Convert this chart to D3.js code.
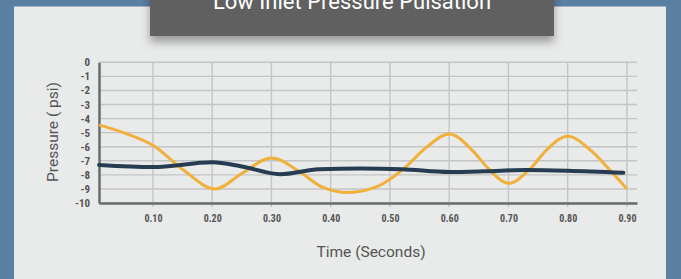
<!DOCTYPE html>
<html>
<head>
<meta charset="utf-8">
<script src="https://cdn.jsdelivr.net/npm/d3@7"></script>
<style>
  html, body { margin: 0; padding: 0; background: #5b7fa0; }
  svg { display: block; }
</style>
</head>
<body>
<script>
let width = 681, height = 279;

// data
let title = "Low Inlet Pressure Pulsation";
let xTicks = [0.10, 0.20, 0.30, 0.40, 0.50, 0.60, 0.70, 0.80, 0.90];
let yTicks = [0, -1, -2, -3, -4, -5, -6, -7, -8, -9, -10];

let orangeTime  = [0.009, 0.05, 0.10, 0.15, 0.205, 0.25, 0.30, 0.35, 0.385, 0.43, 0.48, 0.525, 0.56, 0.60, 0.64, 0.665, 0.70, 0.735, 0.765, 0.80, 0.84, 0.87, 0.90];
let orangeValue = [-4.45, -5.0, -5.9, -7.6, -9.0, -7.9, -6.8, -7.85, -8.85, -9.25, -8.8, -7.5, -6.1, -5.1, -6.3, -7.5, -8.6, -7.65, -6.2, -5.25, -6.3, -7.6, -9.0];

let navyTime  = [0.009, 0.10, 0.20, 0.25, 0.315, 0.38, 0.45, 0.52, 0.60, 0.66, 0.73, 0.80, 0.894];
let navyValue = [-7.3, -7.45, -7.1, -7.4, -7.95, -7.6, -7.55, -7.6, -7.8, -7.75, -7.65, -7.7, -7.85];

let svg = d3.select("body").append("svg")
    .attr("width", width)
    .attr("height", height);

let defs = svg.append("defs");
let shadow = defs.append("filter").attr("id", "shadow")
    .attr("x", "-10%").attr("y", "-20%").attr("width", "120%").attr("height", "180%");
shadow.append("feDropShadow")
    .attr("dx", 0).attr("dy", 6).attr("stdDeviation", 5)
    .attr("flood-color", "#000").attr("flood-opacity", 0.35);

// paper panel
svg.append("rect")
    .attr("x", 14).attr("y", 6.5)
    .attr("width", 652).attr("height", 280)
    .attr("fill", "#e9eaea");

// title box
svg.append("rect")
    .attr("x", 150).attr("y", -10)
    .attr("width", 404).attr("height", 46)
    .attr("fill", "#5f605f")
    .attr("filter", "url(#shadow)");

svg.append("text")
    .attr("x", 352).attr("y", 9)
    .attr("text-anchor", "middle")
    .attr("font-family", "Roboto, sans-serif")
    .attr("font-size", 22)
    .attr("fill", "#fff")
    .text(title);

let x = d3.scaleLinear().domain([0.009, 0.917]).range([99, 637]);
let y = d3.scaleLinear().domain([-10, 0]).range([203, 62.3]);

let condensed = "'Roboto Condensed', 'DejaVu Sans Condensed', 'Liberation Sans Narrow', Roboto, sans-serif";

// grid
let grid = svg.append("g").attr("stroke", "#c4c5c6").attr("stroke-width", 1.4);
grid.selectAll(".h").data(yTicks).enter().append("line")
    .attr("x1", x.range()[0]).attr("x2", x.range()[1])
    .attr("y1", d => y(d)).attr("y2", d => y(d));
grid.selectAll(".v").data(xTicks).enter().append("line")
    .attr("x1", d => x(d)).attr("x2", d => x(d))
    .attr("y1", y(0)).attr("y2", y(-10) + 4);

// axes
let xAxis = svg.append("g")
    .attr("transform", "translate(0," + y(-10) + ")")
    .call(d3.axisBottom(x).tickValues(xTicks).tickSize(0).tickPadding(12).tickFormat(d3.format(".2f")));
xAxis.select(".domain").attr("stroke", "#6a6b6c").attr("stroke-width", 2.5);

let yAxis = svg.append("g")
    .attr("transform", "translate(" + x.range()[0] + ",0)")
    .call(d3.axisLeft(y).tickValues(yTicks).tickSize(0).tickPadding(9).tickFormat(d => d));
yAxis.select(".domain").attr("stroke", "#6a6b6c").attr("stroke-width", 2.5);

svg.selectAll(".tick text")
    .attr("font-family", condensed)
    .attr("font-weight", "bold")
    .attr("font-size", 10)
    .attr("fill", "#555");
yAxis.selectAll(".tick text").attr("font-size", 11);

// axis titles
svg.append("text")
    .attr("x", 371).attr("y", 257)
    .attr("text-anchor", "middle")
    .attr("font-family", "Roboto, sans-serif")
    .attr("font-size", 15.5)
    .attr("fill", "#555")
    .text("Time (Seconds)");

svg.append("text")
    .attr("transform", "translate(58,132) rotate(-90)")
    .attr("text-anchor", "middle")
    .attr("font-family", "Roboto, sans-serif")
    .attr("font-size", 15.5)
    .attr("fill", "#555")
    .text("Pressure ( psi)");

// lines
let line = d3.line()
    .x(d => x(d[0]))
    .y(d => y(d[1]))
    .curve(d3.curveMonotoneX);

svg.append("path")
    .datum(d3.zip(orangeTime, orangeValue))
    .attr("fill", "none")
    .attr("stroke", "#f0b03a")
    .attr("stroke-width", 3)
    .attr("d", line);

svg.append("path")
    .datum(d3.zip(navyTime, navyValue))
    .attr("fill", "none")
    .attr("stroke", "#263c52")
    .attr("stroke-width", 4)
    .attr("stroke-linecap", "round")
    .attr("d", line);
</script>
</body>
</html>
